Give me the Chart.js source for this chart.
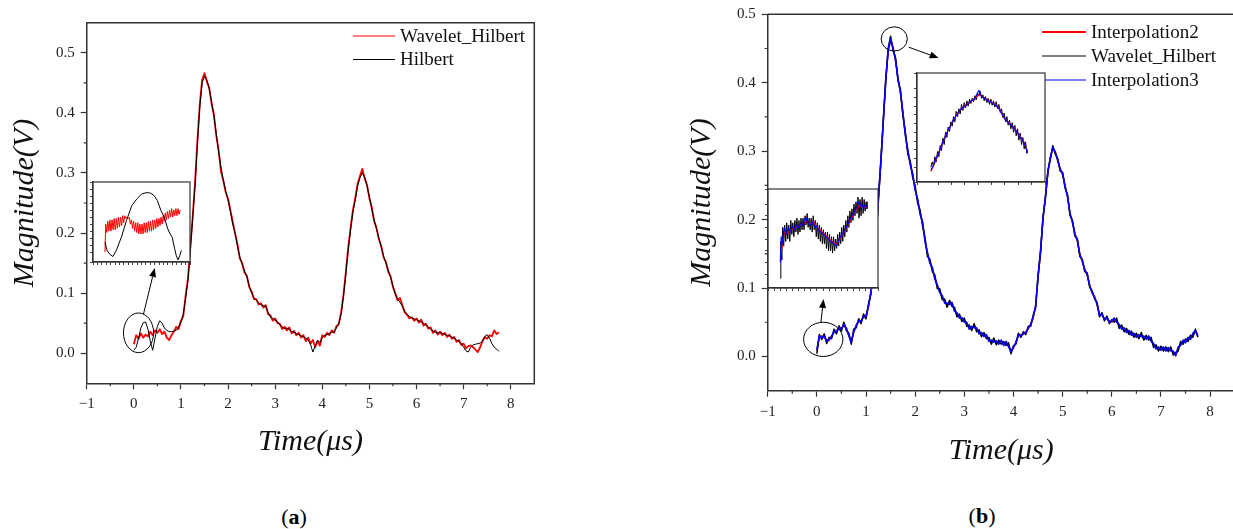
<!DOCTYPE html>
<html><head><meta charset="utf-8">
<script src="https://cdn.jsdelivr.net/npm/chart.js@4.4.0/dist/chart.umd.min.js"></script>
<style>
html,body{margin:0;padding:0;background:#fff;overflow:hidden;width:1233px;height:529px;position:relative}
canvas{position:absolute}
.cap{position:absolute;font-family:"Liberation Serif",serif;font-size:22px;line-height:28px;color:#000;transform:translateX(-50%);white-space:nowrap}
</style></head><body>
<canvas id="mainA" width="560" height="470" style="left:0;top:0"></canvas>
<canvas id="mainB" width="560" height="480" style="left:680px;top:0"></canvas>
<canvas id="insetA" width="102" height="85" style="left:89px;top:181px"></canvas>
<canvas id="insetBL" width="115" height="104" style="left:764px;top:188px"></canvas>
<canvas id="insetBR" width="133" height="114" style="left:913px;top:72px"></canvas>
<div class="cap" style="left:294px;top:503px">(<b>a</b>)</div>
<div class="cap" style="left:982px;top:502px">(<b>b</b>)</div>
<script>
// ---------------- data ----------------
const timeGrid=[
0,0.05,0.1,0.15,0.2,0.25,0.3,0.35,0.4,0.45,0.5,0.55,0.6,0.65,0.7,0.75,0.8,0.85,0.9,0.95,
1,1.05,1.1,1.15,1.2,1.25,1.3,1.35,1.4,1.45,1.5,1.55,1.6,1.65,1.7,1.75,1.8,1.85,1.9,1.95,
2,2.05,2.1,2.15,2.2,2.25,2.3,2.35,2.4,2.45,2.5,2.55,2.6,2.65,2.7,2.75,2.8,2.85,2.9,2.95,
3,3.05,3.1,3.15,3.2,3.25,3.3,3.35,3.4,3.45,3.5,3.55,3.6,3.65,3.7,3.75,3.8,3.85,3.9,3.95,
4,4.05,4.1,4.15,4.2,4.25,4.3,4.35,4.4,4.45,4.5,4.55,4.6,4.65,4.7,4.75,4.8,4.85,4.9,4.95,
5,5.05,5.1,5.15,5.2,5.25,5.3,5.35,5.4,5.45,5.5,5.55,5.6,5.65,5.7,5.75,5.8,5.85,5.9,5.95,
6,6.05,6.1,6.15,6.2,6.25,6.3,6.35,6.4,6.45,6.5,6.55,6.6,6.65,6.7,6.75,6.8,6.85,6.9,6.95,
7,7.05,7.1,7.15,7.2,7.25,7.3,7.35,7.4,7.45,7.5,7.55,7.6,7.65,7.7,7.75];

// panel (a)
const waveletA=[
0.015,0.030,0.024,0.033,0.026,0.031,0.028,0.036,0.030,0.038,0.034,0.040,0.032,0.036,0.026,0.022,0.030,0.036,0.044,0.040,
0.054,0.062,0.096,0.125,0.176,0.228,0.284,0.354,0.414,0.455,0.466,0.452,0.442,0.416,0.397,0.362,0.338,0.302,0.287,0.268,
0.257,0.238,0.218,0.199,0.181,0.158,0.150,0.134,0.129,0.110,0.103,0.090,0.090,0.081,0.083,0.076,0.080,0.065,0.063,0.054,
0.058,0.050,0.049,0.040,0.044,0.038,0.043,0.033,0.037,0.030,0.034,0.026,0.030,0.020,0.026,0.016,0.022,0.010,0.020,0.013,
0.030,0.027,0.034,0.030,0.038,0.034,0.045,0.048,0.068,0.097,0.135,0.175,0.208,0.238,0.258,0.282,0.295,0.307,0.291,0.280,
0.258,0.243,0.220,0.209,0.190,0.179,0.160,0.152,0.136,0.128,0.110,0.100,0.088,0.092,0.080,0.068,0.064,0.058,0.060,0.054,
0.058,0.051,0.056,0.046,0.049,0.041,0.043,0.034,0.038,0.031,0.036,0.030,0.034,0.027,0.031,0.024,0.027,0.019,0.022,0.014,
0.016,0.008,0.012,0.013,0.010,0.006,0.002,0.010,0.020,0.027,0.024,0.030,0.028,0.038,0.032,0.035];
const hilbertA=[
0.005,0.010,0.025,0.042,0.051,0.052,0.040,0.020,0.005,0.025,0.045,0.054,0.050,0.042,0.038,0.036,0.036,0.037,0.038,0.044,
0.052,0.065,0.092,0.122,0.172,0.225,0.280,0.350,0.410,0.450,0.461,0.455,0.440,0.418,0.395,0.365,0.335,0.310,0.288,0.270,
0.255,0.236,0.215,0.200,0.178,0.160,0.148,0.137,0.127,0.112,0.100,0.093,0.088,0.084,0.080,0.079,0.078,0.068,0.060,0.058,
0.055,0.053,0.047,0.044,0.041,0.042,0.040,0.036,0.035,0.033,0.031,0.029,0.027,0.025,0.022,0.015,0.002,0.012,0.022,0.018,
0.026,0.030,0.031,0.033,0.035,0.036,0.042,0.050,0.065,0.095,0.132,0.172,0.205,0.235,0.255,0.278,0.292,0.300,0.293,0.278,
0.260,0.240,0.222,0.207,0.192,0.177,0.162,0.150,0.138,0.126,0.112,0.098,0.090,0.085,0.078,0.070,0.065,0.061,0.059,0.057,
0.056,0.054,0.052,0.050,0.047,0.044,0.040,0.037,0.035,0.034,0.034,0.033,0.031,0.030,0.029,0.027,0.025,0.022,0.020,0.016,
0.010,0.004,0.002,0.010,0.014,0.015,0.016,0.017,0.020,0.028,0.031,0.025,0.016,0.010,0.007,0.003];

// panel (b)
const interp2B=[
0.008,0.028,0.030,0.028,0.024,0.023,0.030,0.035,0.038,0.040,0.042,0.045,0.042,0.030,0.022,0.035,0.046,0.050,0.053,0.057,
0.060,0.072,0.095,0.122,0.170,0.225,0.285,0.340,0.405,0.445,0.462,0.452,0.432,0.408,0.385,0.355,0.325,0.300,0.282,0.265,
0.245,0.228,0.210,0.195,0.170,0.150,0.138,0.128,0.115,0.103,0.095,0.087,0.080,0.076,0.078,0.077,0.068,0.062,0.058,0.055,
0.052,0.048,0.042,0.042,0.044,0.040,0.035,0.033,0.031,0.030,0.024,0.022,0.023,0.021,0.020,0.022,0.018,0.020,0.016,0.008,
0.012,0.022,0.030,0.032,0.032,0.036,0.040,0.048,0.056,0.075,0.115,0.155,0.200,0.235,0.268,0.292,0.304,0.300,0.285,0.275,
0.265,0.250,0.232,0.210,0.195,0.180,0.168,0.150,0.138,0.128,0.118,0.105,0.092,0.088,0.075,0.062,0.060,0.056,0.055,0.052,
0.050,0.054,0.052,0.045,0.042,0.040,0.037,0.036,0.033,0.032,0.030,0.030,0.031,0.028,0.027,0.028,0.024,0.017,0.013,0.012,
0.011,0.012,0.010,0.011,0.010,0.006,0.002,0.012,0.018,0.022,0.022,0.026,0.027,0.032,0.036,0.032];
const interp3B=[
0.010,0.030,0.027,0.030,0.022,0.025,0.029,0.037,0.036,0.042,0.040,0.047,0.041,0.031,0.021,0.036,0.045,0.052,0.051,0.059,
0.058,0.074,0.094,0.124,0.168,0.227,0.283,0.342,0.403,0.447,0.465,0.450,0.434,0.406,0.387,0.357,0.323,0.302,0.280,0.267,
0.243,0.230,0.208,0.197,0.168,0.152,0.136,0.130,0.113,0.105,0.093,0.089,0.078,0.078,0.076,0.079,0.066,0.064,0.056,0.057,
0.050,0.050,0.040,0.044,0.042,0.042,0.033,0.035,0.029,0.032,0.022,0.024,0.021,0.023,0.018,0.024,0.016,0.022,0.014,0.007,
0.014,0.020,0.032,0.030,0.034,0.034,0.042,0.046,0.058,0.073,0.117,0.153,0.202,0.233,0.270,0.290,0.306,0.298,0.287,0.273,
0.267,0.248,0.234,0.208,0.197,0.178,0.170,0.148,0.140,0.126,0.120,0.103,0.094,0.086,0.077,0.060,0.062,0.054,0.057,0.050,
0.052,0.056,0.050,0.047,0.040,0.042,0.035,0.038,0.031,0.034,0.028,0.032,0.029,0.030,0.025,0.030,0.022,0.019,0.011,0.014,
0.009,0.014,0.008,0.013,0.008,0.008,0.001,0.014,0.016,0.024,0.020,0.028,0.025,0.034,0.038,0.030];
const waveletB=[
0.004,0.032,0.025,0.033,0.019,0.028,0.026,0.040,0.033,0.045,0.037,0.050,0.038,0.034,0.018,0.040,0.042,0.055,0.048,0.062,
0.055,0.077,0.091,0.127,0.168,0.230,0.280,0.345,0.400,0.450,0.468,0.447,0.437,0.403,0.390,0.352,0.328,0.296,0.285,0.261,
0.249,0.224,0.214,0.191,0.174,0.146,0.142,0.124,0.119,0.099,0.099,0.083,0.084,0.072,0.082,0.073,0.072,0.058,0.062,0.051,
0.056,0.044,0.046,0.038,0.048,0.036,0.039,0.029,0.035,0.026,0.028,0.018,0.027,0.017,0.024,0.018,0.022,0.016,0.020,0.004,
0.016,0.018,0.034,0.028,0.036,0.032,0.044,0.044,0.060,0.071,0.119,0.151,0.204,0.231,0.272,0.288,0.308,0.296,0.289,0.271,
0.269,0.246,0.236,0.206,0.199,0.176,0.172,0.146,0.142,0.124,0.122,0.101,0.096,0.084,0.079,0.058,0.064,0.052,0.059,0.048,
0.054,0.050,0.056,0.041,0.046,0.036,0.041,0.032,0.037,0.028,0.034,0.026,0.035,0.024,0.031,0.024,0.028,0.013,0.017,0.008,
0.015,0.008,0.014,0.007,0.014,0.002,0.006,0.008,0.022,0.018,0.026,0.022,0.031,0.028,0.040,0.028];

// inset (a): zoom of 0 - 0.45 us  [time, value]
const insetAWavelet=[[0.018,0.010],[0.022,0.030],[0.028,0.024],[0.034,0.032],[0.040,0.025],[0.046,0.033],[0.052,0.025],[0.058,0.033],[0.064,0.026],[0.070,0.034],[0.076,0.026],[0.082,0.034],[0.088,0.027],[0.094,0.035],[0.100,0.028],[0.106,0.035],[0.112,0.029],[0.118,0.036],[0.124,0.031],[0.130,0.036],[0.136,0.034],[0.142,0.035],[0.150,0.034],[0.156,0.035],[0.162,0.030],[0.168,0.033],[0.174,0.027],[0.180,0.032],[0.186,0.025],[0.192,0.031],[0.198,0.024],[0.204,0.031],[0.210,0.023],[0.216,0.030],[0.222,0.023],[0.228,0.030],[0.234,0.023],[0.240,0.031],[0.246,0.024],[0.252,0.031],[0.258,0.024],[0.264,0.032],[0.270,0.025],[0.276,0.032],[0.282,0.025],[0.288,0.033],[0.294,0.026],[0.300,0.033],[0.306,0.027],[0.312,0.034],[0.318,0.028],[0.324,0.034],[0.330,0.029],[0.336,0.035],[0.342,0.030],[0.348,0.036],[0.354,0.032],[0.360,0.038],[0.366,0.033],[0.372,0.039],[0.378,0.034],[0.384,0.040],[0.390,0.035],[0.396,0.041],[0.402,0.035],[0.408,0.040],[0.414,0.036],[0.420,0.041],[0.426,0.036],[0.432,0.041],[0.438,0.037],[0.444,0.040]];
const insetAHilbert=[[0.018,0.0171],[0.030,0.0112],[0.043,0.0088],[0.063,0.0069],[0.082,0.0112],[0.111,0.0207],[0.140,0.0326],[0.170,0.0432],[0.199,0.0480],[0.228,0.0516],[0.257,0.0525],[0.277,0.0520],[0.296,0.0504],[0.315,0.0468],[0.335,0.0397],[0.354,0.0349],[0.374,0.0266],[0.387,0.0230],[0.399,0.0207],[0.413,0.0124],[0.422,0.0076],[0.432,0.0045],[0.442,0.0076],[0.451,0.0112]];

// inset (b) left: start of signal
const insetBLInterp2=[[0.0005,0.0175],[0.009,0.0217],[0.020,0.0281],[0.033,0.0274],[0.050,0.0288],[0.066,0.0295],[0.082,0.0302],[0.099,0.0309],[0.115,0.0316],[0.125,0.0330],[0.135,0.0320],[0.148,0.0316],[0.164,0.0325],[0.180,0.0302],[0.197,0.0288],[0.213,0.0274],[0.230,0.0260],[0.246,0.0245],[0.262,0.0235],[0.276,0.0228],[0.287,0.0240],[0.303,0.0268],[0.320,0.0288],[0.336,0.0316],[0.352,0.0345],[0.366,0.0366],[0.377,0.0380],[0.388,0.0395],[0.400,0.0387],[0.415,0.0384],[0.426,0.0390]];
const insetBLInterp3=[[0.0005,0.0150],[0.005,0.0260],[0.010,0.0230],[0.020,0.0300],[0.030,0.0270],[0.040,0.0300],[0.050,0.0280],[0.060,0.0305],[0.070,0.0290],[0.082,0.0310],[0.092,0.0300],[0.100,0.0315],[0.110,0.0310],[0.118,0.0325],[0.125,0.0345],[0.132,0.0325],[0.140,0.0315],[0.148,0.0310],[0.157,0.0325],[0.164,0.0315],[0.172,0.0300],[0.180,0.0305],[0.190,0.0285],[0.200,0.0280],[0.213,0.0270],[0.222,0.0262],[0.232,0.0255],[0.240,0.0245],[0.250,0.0240],[0.262,0.0230],[0.270,0.0225],[0.277,0.0222],[0.287,0.0245],[0.296,0.0260],[0.303,0.0270],[0.312,0.0280],[0.320,0.0292],[0.330,0.0310],[0.340,0.0330],[0.352,0.0350],[0.360,0.0360],[0.368,0.0375],[0.377,0.0385],[0.383,0.0405],[0.388,0.0410],[0.395,0.0390],[0.402,0.0395],[0.410,0.0380],[0.418,0.0395],[0.426,0.0388]];
const insetBLWavelet=[[0.0005,0.0082],[0.003,0.024],[0.008,0.016],[0.012,0.030],[0.017,0.022],[0.022,0.031],[0.027,0.024],[0.032,0.032],[0.037,0.025],[0.042,0.031],[0.047,0.024],[0.052,0.033],[0.057,0.027],[0.062,0.032],[0.067,0.026],[0.072,0.033],[0.077,0.028],[0.082,0.034],[0.087,0.027],[0.092,0.033],[0.097,0.028],[0.102,0.034],[0.107,0.029],[0.112,0.034],[0.117,0.029],[0.122,0.035],[0.127,0.031],[0.132,0.036],[0.137,0.030],[0.142,0.034],[0.147,0.029],[0.152,0.034],[0.157,0.028],[0.162,0.035],[0.167,0.029],[0.172,0.033],[0.177,0.026],[0.182,0.032],[0.187,0.025],[0.192,0.031],[0.197,0.024],[0.202,0.030],[0.207,0.023],[0.212,0.029],[0.217,0.023],[0.222,0.028],[0.227,0.021],[0.232,0.028],[0.237,0.020],[0.242,0.027],[0.247,0.020],[0.252,0.026],[0.257,0.019],[0.262,0.026],[0.267,0.020],[0.272,0.025],[0.277,0.021],[0.282,0.027],[0.287,0.022],[0.292,0.028],[0.297,0.023],[0.302,0.030],[0.307,0.024],[0.312,0.031],[0.317,0.026],[0.322,0.033],[0.327,0.028],[0.332,0.035],[0.337,0.030],[0.342,0.037],[0.347,0.032],[0.352,0.038],[0.357,0.033],[0.362,0.040],[0.367,0.035],[0.372,0.041],[0.377,0.036],[0.382,0.043],[0.387,0.034],[0.392,0.042],[0.397,0.035],[0.402,0.043],[0.407,0.036],[0.412,0.042],[0.417,0.037],[0.422,0.041],[0.426,0.038]];

// inset (b) right: main peak
const insetBRInterp2=[[1.372,0.375],[1.391,0.388],[1.410,0.404],[1.428,0.417],[1.447,0.429],[1.472,0.442],[1.497,0.450],[1.522,0.455],[1.541,0.460],[1.553,0.463],[1.566,0.461],[1.584,0.457],[1.609,0.453],[1.628,0.448],[1.647,0.436],[1.665,0.431],[1.684,0.425],[1.703,0.417],[1.721,0.409],[1.734,0.398]];
const insetBRInterp3=[[1.372,0.377],[1.380,0.381],[1.391,0.390],[1.400,0.395],[1.410,0.403],[1.420,0.412],[1.428,0.416],[1.438,0.424],[1.447,0.428],[1.460,0.436],[1.472,0.441],[1.485,0.447],[1.497,0.449],[1.510,0.452],[1.522,0.456],[1.532,0.457],[1.541,0.461],[1.548,0.466],[1.553,0.468],[1.558,0.463],[1.566,0.460],[1.575,0.459],[1.584,0.456],[1.597,0.455],[1.609,0.452],[1.620,0.450],[1.628,0.447],[1.638,0.441],[1.647,0.437],[1.656,0.433],[1.665,0.430],[1.675,0.428],[1.684,0.424],[1.694,0.421],[1.703,0.416],[1.712,0.413],[1.721,0.408],[1.728,0.403],[1.734,0.396]];
const insetBRWavelet=[[1.372,0.380],[1.377,0.386],[1.382,0.381],[1.387,0.392],[1.392,0.386],[1.397,0.398],[1.402,0.392],[1.407,0.405],[1.412,0.399],[1.417,0.413],[1.422,0.406],[1.427,0.420],[1.432,0.414],[1.437,0.426],[1.442,0.421],[1.447,0.432],[1.452,0.427],[1.457,0.438],[1.462,0.432],[1.467,0.444],[1.472,0.438],[1.477,0.447],[1.482,0.441],[1.487,0.452],[1.492,0.445],[1.497,0.454],[1.502,0.448],[1.507,0.456],[1.512,0.450],[1.517,0.458],[1.522,0.453],[1.527,0.459],[1.532,0.455],[1.537,0.462],[1.542,0.457],[1.547,0.465],[1.552,0.462],[1.557,0.467],[1.562,0.459],[1.567,0.463],[1.572,0.456],[1.577,0.461],[1.582,0.454],[1.587,0.459],[1.592,0.452],[1.597,0.458],[1.602,0.451],[1.607,0.456],[1.612,0.449],[1.617,0.455],[1.622,0.447],[1.627,0.452],[1.632,0.443],[1.637,0.447],[1.642,0.437],[1.647,0.442],[1.652,0.432],[1.657,0.438],[1.662,0.428],[1.667,0.434],[1.672,0.424],[1.677,0.431],[1.682,0.420],[1.687,0.428],[1.692,0.416],[1.697,0.424],[1.702,0.411],[1.707,0.419],[1.712,0.406],[1.717,0.414],[1.722,0.401],[1.727,0.409],[1.732,0.396],[1.734,0.400]];

// tick values
const xMajorTicks=[-1,0,1,2,3,4,5,6,7,8];
const xMinorTicks=[-0.5,0.5,1.5,2.5,3.5,4.5,5.5,6.5,7.5];
const yMajorTicks=[0,0.1,0.2,0.3,0.4,0.5];
const yMinorTicksA=[0.05,0.15,0.25,0.35,0.45];
const yMinorTicksB=[0.05,0.15,0.25,0.35,0.45];

// annotations in data units: circle [t, v, radiusT, radiusV], arrow [t1,v1,t2,v2]
const circlesA=[[0.10,0.034,0.32,0.033]];
const arrowsA=[[0.205,0.065,0.444,0.142]];
const circlesB=[[0.13,0.025,0.40,0.025],[1.574,0.464,0.266,0.0177]];
const arrowsB=[[0.081,0.049,0.136,0.084],[1.868,0.452,2.479,0.436]];

// ---------------- drawing ----------------
Chart.defaults.font.family='"Liberation Serif", serif';
Chart.defaults.elements.point.radius=0;
Chart.defaults.elements.line.borderJoinStyle='round';

const pts=(xs,ys)=>xs.map((t,i)=>({x:t,y:ys[i]}));
const pairPts=a=>a.map(p=>({x:p[0],y:p[1]}));
const tickFont={family:'"Liberation Serif", serif',size:15};
const titleFont={family:'"Liberation Serif", serif',size:30,style:'italic'};
const AX='#333';

function mainPlugins(o){
  return [{
    id:'decor',
    afterDraw(chart){
      const c=chart.ctx, a=chart.chartArea, xs=chart.scales.x, ys=chart.scales.y;
      c.save();
      c.strokeStyle=AX; c.lineWidth=1.5;
      c.beginPath(); c.moveTo(a.left,a.top); c.lineTo(a.right,a.top); c.lineTo(a.right,a.bottom); c.stroke();
      c.lineWidth=1.2; c.beginPath();
      o.minorX.forEach(v=>{const p=xs.getPixelForValue(v); c.moveTo(p,a.bottom); c.lineTo(p,a.bottom+3);});
      o.minorY.forEach(v=>{const p=ys.getPixelForValue(v); c.moveTo(a.left-3,p); c.lineTo(a.left,p);});
      c.stroke();
      c.strokeStyle='#000'; c.lineWidth=1;
      o.circles.forEach(([t,v,rt,rv])=>{
        const cx=xs.getPixelForValue(t), cy=ys.getPixelForValue(v);
        const rx=Math.abs(xs.getPixelForValue(t+rt)-cx), ry=Math.abs(ys.getPixelForValue(v+rv)-cy);
        c.beginPath(); c.ellipse(cx,cy,rx,ry,0,0,Math.PI*2); c.stroke();
      });
      c.fillStyle='#000';
      o.arrows.forEach(([t1,v1,t2,v2])=>{
        const x1=xs.getPixelForValue(t1), y1=ys.getPixelForValue(v1), x2=xs.getPixelForValue(t2), y2=ys.getPixelForValue(v2);
        const ang=Math.atan2(y2-y1,x2-x1), L=9, W=3.5;
        const bx=x2-L*Math.cos(ang), by=y2-L*Math.sin(ang);
        c.beginPath(); c.moveTo(x1,y1); c.lineTo(bx,by); c.stroke();
        c.beginPath(); c.moveTo(x2,y2);
        c.lineTo(bx+W*Math.sin(ang),by-W*Math.cos(ang));
        c.lineTo(bx-W*Math.sin(ang),by+W*Math.cos(ang));
        c.closePath(); c.fill();
      });
      c.font='19px "Liberation Serif", serif'; c.textBaseline='middle'; c.textAlign='left';
      o.legendOrder.forEach((di,k)=>{
        const ds=chart.data.datasets[di], y=o.legend.y+k*o.legend.row;
        c.strokeStyle=ds.borderColor; c.lineWidth=ds.legendWidth||ds.borderWidth;
        c.beginPath(); c.moveTo(o.legend.x,y); c.lineTo(o.legend.x+o.legend.len,y); c.stroke();
        c.fillStyle='#111'; c.fillText(ds.label,o.legend.x+o.legend.len+5,y+1);
      });
      c.restore();
    }
  }];
}

function makeMain(id,o){
  return new Chart(document.getElementById(id),{
    type:'line',
    data:{datasets:o.datasets},
    options:{
      responsive:false,animation:false,events:[],
      layout:{padding:o.pad},
      plugins:{legend:{display:false},tooltip:{enabled:false}},
      scales:{
        x:{type:'linear',position:'bottom',min:o.xMin,max:o.xMax,
          afterBuildTicks:s=>{s.ticks=xMajorTicks.map(v=>({value:v}));},
          afterFit:s=>{s.height=o.xH;s.paddingLeft=0;s.paddingRight=0;},
          ticks:{font:tickFont,color:'#222',padding:6,maxRotation:0,autoSkip:false,
            callback:v=>v<0?'\u2212'+(-v):String(v)},
          grid:{drawOnChartArea:false,tickLength:6,tickColor:AX,tickWidth:1.2},
          border:{color:AX,width:1.5},
          title:{display:true,text:'Time(μs)',font:titleFont,color:'#111',padding:{top:0,bottom:o.xTitlePad}}},
        y:{type:'linear',position:'left',min:o.yMin,max:o.yMax,
          afterBuildTicks:s=>{s.ticks=yMajorTicks.map(v=>({value:v}));},
          afterFit:s=>{s.width=o.yW;s.paddingTop=0;s.paddingBottom=0;},
          ticks:{font:tickFont,color:'#222',padding:6,callback:v=>Number(v).toFixed(1)},
          grid:{drawOnChartArea:false,tickLength:6,tickColor:AX,tickWidth:1.2},
          border:{color:AX,width:1.5},
          title:{display:true,text:'Magnitude(V)',font:titleFont,color:'#111',padding:{top:o.yTitlePad,bottom:0}}}
      }
    },
    plugins:mainPlugins(o)
  });
}

const insetPlugin={
  id:'insetFrame',
  beforeDraw(chart){const c=chart.ctx,a=chart.chartArea;c.save();c.fillStyle='#fff';c.fillRect(a.left,a.top,a.right-a.left,a.bottom-a.top);c.restore();},
  afterDraw(chart){const c=chart.ctx,a=chart.chartArea;c.save();c.strokeStyle=AX;c.lineWidth=1.2;c.strokeRect(a.left,a.top,a.right-a.left,a.bottom-a.top);c.restore();}
};
function makeInset(id,o){
  return new Chart(document.getElementById(id),{
    type:'line',
    data:{datasets:o.datasets},
    options:{
      responsive:false,animation:false,events:[],
      layout:{padding:{top:1,right:1,left:0,bottom:0}},
      plugins:{legend:{display:false},tooltip:{enabled:false}},
      scales:{
        x:{type:'linear',min:o.xMin,max:o.xMax,ticks:{display:false,stepSize:o.xStep},
          grid:{drawOnChartArea:false,tickLength:3,tickColor:'#444'},border:{color:AX,width:1.2},
          afterFit:s=>{s.height=4;s.paddingLeft=0;s.paddingRight=0;}},
        y:{type:'linear',min:o.yMin,max:o.yMax,ticks:{display:false,stepSize:o.yStep},
          grid:{drawOnChartArea:false,tickLength:3,tickColor:'#444'},border:{color:AX,width:1.2},
          afterFit:s=>{s.width=4;s.paddingTop=0;s.paddingBottom=0;}}
      }
    },
    plugins:[insetPlugin]
  });
}

// ---- panel (a)
makeMain('mainA',{
  datasets:[
    {label:'Wavelet_Hilbert',data:pts(timeGrid,waveletA),borderColor:'#ff0000',borderWidth:1.8,legendWidth:1,order:1},
    {label:'Hilbert',data:pts(timeGrid,hilbertA),borderColor:'#000000',borderWidth:1,order:0}
  ],
  pad:{left:0,top:22.7,right:25.7,bottom:0},
  xMin:-1,xMax:8.5,yMin:-0.05,yMax:0.55,
  xH:86.7,yW:86.7,xTitlePad:10,yTitlePad:7,
  minorX:xMinorTicks,minorY:yMinorTicksA,
  circles:circlesA,arrows:arrowsA,
  legendOrder:[0,1],legend:{x:353,y:36,len:42,row:23.5}
});
makeInset('insetA',{
  datasets:[
    {data:pairPts(insetAWavelet),borderColor:'#ff0000',borderWidth:1,order:1},
    {data:pairPts(insetAHilbert),borderColor:'#000000',borderWidth:1,order:0}
  ],
  xMin:-0.05,xMax:0.5,yMin:0.003,yMax:0.06,xStep:0.025,yStep:0.005
});

// ---- panel (b)
makeMain('mainB',{
  datasets:[
    {label:'Interpolation2',data:pts(timeGrid,interp2B),borderColor:'#ff0000',borderWidth:1.5,legendWidth:2,order:2},
    {label:'Wavelet_Hilbert',data:pts(timeGrid,waveletB),borderColor:'#000000',borderWidth:1.5,legendWidth:1,order:1},
    {label:'Interpolation3',data:pts(timeGrid,interp3B),borderColor:'#0000ff',borderWidth:1.6,legendWidth:1.2,order:0}
  ],
  pad:{left:0,top:14.3,right:5.3,bottom:0},
  xMin:-1,xMax:8.5,yMin:-0.05,yMax:0.5,
  xH:89.3,yW:87.7,xTitlePad:11,yTitlePad:4,
  minorX:xMinorTicks,minorY:yMinorTicksB,
  circles:circlesB,arrows:arrowsB,
  legendOrder:[0,1,2],legend:{x:362,y:32,len:44,row:24}
});
makeInset('insetBL',{
  datasets:[
    {data:pairPts(insetBLWavelet),borderColor:'#000000',borderWidth:1,order:2},
    {data:pairPts(insetBLInterp2),borderColor:'#ff0000',borderWidth:1.2,order:1},
    {data:pairPts(insetBLInterp3),borderColor:'#0000ff',borderWidth:1.2,order:0}
  ],
  xMin:-0.06,xMax:0.48,yMin:0.004,yMax:0.0465,xStep:0.03,yStep:0.005
});
makeInset('insetBR',{
  datasets:[
    {data:pairPts(insetBRWavelet),borderColor:'#000000',borderWidth:1,order:2},
    {data:pairPts(insetBRInterp2),borderColor:'#ff0000',borderWidth:1.2,order:1},
    {data:pairPts(insetBRInterp3),borderColor:'#0000ff',borderWidth:1.2,order:0}
  ],
  xMin:1.32,xMax:1.80,yMin:0.363,yMax:0.488,xStep:0.05,yStep:0.01
});
</script>
</body></html>
